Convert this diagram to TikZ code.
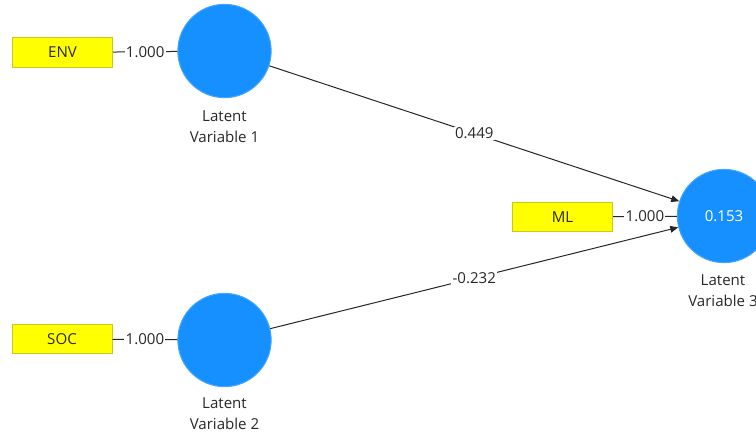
\documentclass[tikz,border=0pt]{standalone}
\usepackage{fontspec}
\setmainfont{Open Sans}
\usetikzlibrary{arrows.meta}
\definecolor{lvblue}{RGB}{22,144,255}
\definecolor{mvyellow}{RGB}{255,255,0}
\definecolor{mvborder}{RGB}{200,200,30}
\definecolor{txt}{RGB}{40,40,40}
\tikzset{
  mv/.style={draw=mvborder, fill=mvyellow, line width=0.75pt, minimum width=75pt, minimum height=22pt, inner sep=0pt, text=txt, font=\fontsize{11.3}{12}\selectfont},
  lv/.style={circle, draw=lvblue!80!white, fill=lvblue, line width=0.75pt, minimum size=70pt, inner sep=0pt, text=white, font=\fontsize{11.3}{12}\selectfont},
  lvname/.style={align=center, text=txt, font=\fontsize{11.3}{15.5}\selectfont},
  wlabel/.style={fill=white, inner sep=1pt, text=txt, font=\fontsize{11.3}{12}\selectfont},
  path/.style={draw=black!85, line width=0.75pt},
  arr/.style={path, -{Triangle[length=6pt,width=5pt]}}
}
\begin{document}
\begin{tikzpicture}[x=0.75pt,y=-0.75pt]
\useasboundingbox (0,0) rectangle (756,433);
\clip (0,0) rectangle (756,433);
\node[mv] (env) at (62.5,52.5) {ENV};
\node[mv] (soc) at (62,339) {SOC};
\node[mv] (ml) at (562.5,217) {ML};
\node[lv] (lv1) at (224.5,51) {};
\node[lv] (lv2) at (224.5,340) {};
\node[lv] (lv3) at (724,216) {0.153};
\node[lvname] (n1) at (224.5,127) {Latent\\Variable 1};
\node[lvname] (n2) at (224.5,414) {Latent\\Variable 2};
\node[lvname] (n3) at (723,291) {Latent\\Variable 3};
\draw[path] (env) -- node[wlabel] {1.000} (lv1);
\draw[path] (soc) -- node[wlabel] {1.000} (lv2);
\draw[path] (ml) -- node[wlabel] {1.000} (lv3);
\draw[arr] (lv1) -- node[wlabel, pos=0.5] {0.449} (lv3);
\draw[arr] (lv2) -- node[wlabel, pos=0.5] {-0.232} (lv3);
\end{tikzpicture}
\end{document}
